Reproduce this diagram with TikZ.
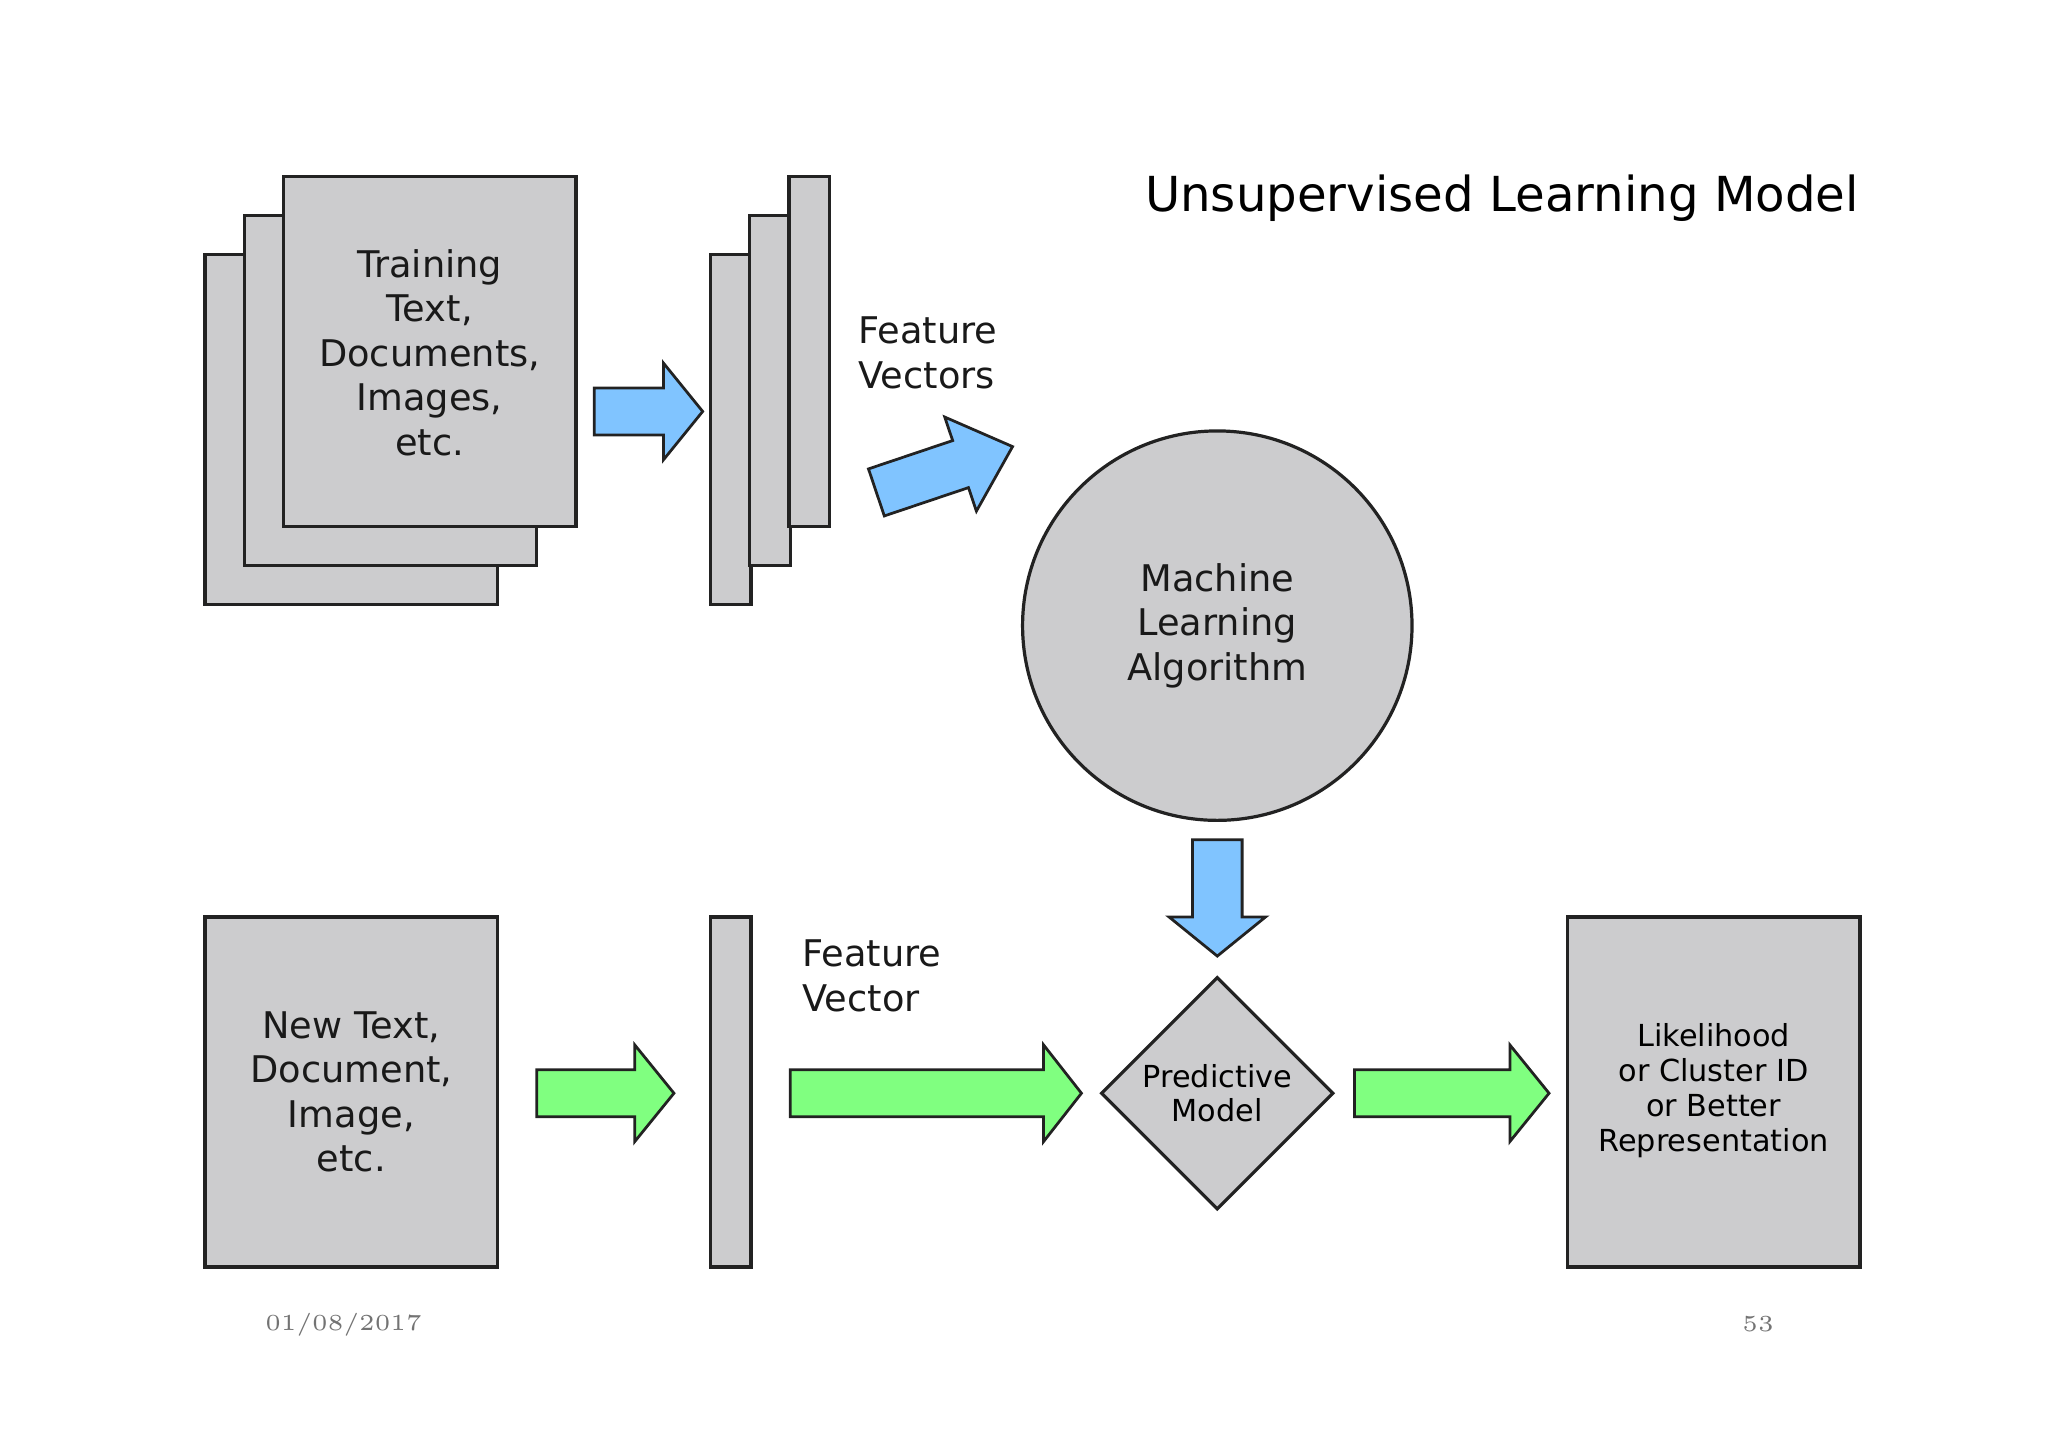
\documentclass[tikz,border=0pt]{standalone}
\usepackage{fontspec}
\setmainfont{DejaVu Sans}
\usetikzlibrary{shapes.geometric}
\definecolor{boxg}{RGB}{204,204,206}
\definecolor{bl}{RGB}{128,196,255}
\definecolor{gr}{RGB}{128,255,128}
\definecolor{ln}{RGB}{34,34,34}
\begin{document}
\begin{tikzpicture}[x=0.01cm,y=-0.01cm,
  box/.style={draw=ln,fill=boxg,line width=0.7pt},
  txt/.style={align=center,font=\fontsize{8}{9.7}\selectfont,text=black!90},
  barrow/.style={draw=ln,line width=0.6pt,line join=miter}]
\useasboundingbox (0,0) rectangle (1568,1108);
% training stack
\draw[box] (157,195) rectangle (381,463);
\draw[box] (187,165) rectangle (411,433);
\draw[box] (217,135) rectangle (441,403);
\node[txt] (train) at (329,270) {Training\\Text,\\Documents,\\Images,\\etc.};
% feature vectors
\draw[box] (544,195) rectangle (575,463);
\draw[box] (574,165) rectangle (605,433);
\draw[box] (604,135) rectangle (635,403);
\node[txt,align=left,anchor=west] (fvs) at (645,270) {Feature\\Vectors};
% arrows blue
\draw[barrow,fill=bl] (455,297)--(508,297)--(508,278)--(538,315)--(508,352)--(508,333)--(455,333)--cycle;
\begin{scope}[shift={(671,377)},rotate=18.6]
\draw[barrow,fill=bl] (0,-19)--(68,-19)--(68,-38)--(110,0)--(68,38)--(68,19)--(0,19)--cycle;
\end{scope}
\draw[barrow,fill=bl] (913,643)--(951,643)--(951,702)--(969,702)--(932,732)--(895,702)--(913,702)--cycle;
% circle
\node[circle,draw=ln,fill=boxg,line width=0.7pt,minimum size=2.98cm,txt] (mla) at (932,479) {Machine\\Learning\\Algorithm};
% bottom
\draw[box] (157,702) rectangle (381,970);
\node[txt] (new) at (269,836) {New Text,\\Document,\\Image,\\etc.};
\draw[box] (544,702) rectangle (575,970);
\node[txt,align=left,anchor=west] (fv) at (602,747) {Feature\\Vector};
\node[diamond,draw=ln,fill=boxg,line width=0.7pt,minimum width=1.78cm,minimum height=1.78cm,inner sep=0pt,align=center,font=\fontsize{6.6}{7.6}\selectfont] (pm) at (932,837) {Predictive\\Model};
\draw[box] (1200,702) rectangle (1424,970);
\node[align=center,font=\fontsize{6.6}{7.6}\selectfont] (res) at (1312,835) {Likelihood\\or Cluster ID\\or Better\\Representation};
% green arrows
\draw[barrow,fill=gr] (411,819)--(486,819)--(486,800)--(516,837)--(486,874)--(486,855)--(411,855)--cycle;
\draw[barrow,fill=gr] (605,819)--(799,819)--(799,800)--(828,837)--(799,874)--(799,855)--(605,855)--cycle;
\draw[barrow,fill=gr] (1037,819)--(1156,819)--(1156,800)--(1186,837)--(1156,874)--(1156,855)--(1037,855)--cycle;
% title & footer
\node[font=\fontsize{10.5}{12}\selectfont] (title) at (1150,152) {Unsupervised Learning Model};
\node[font=\fontfamily{lmr}\fontsize{5}{6}\selectfont,text=black!55] (date) at (263,1014) {01/08/2017};
\node[font=\fontfamily{lmr}\fontsize{5}{6}\selectfont,text=black!55] (pg) at (1346,1014) {53};
\end{tikzpicture}
\end{document}
